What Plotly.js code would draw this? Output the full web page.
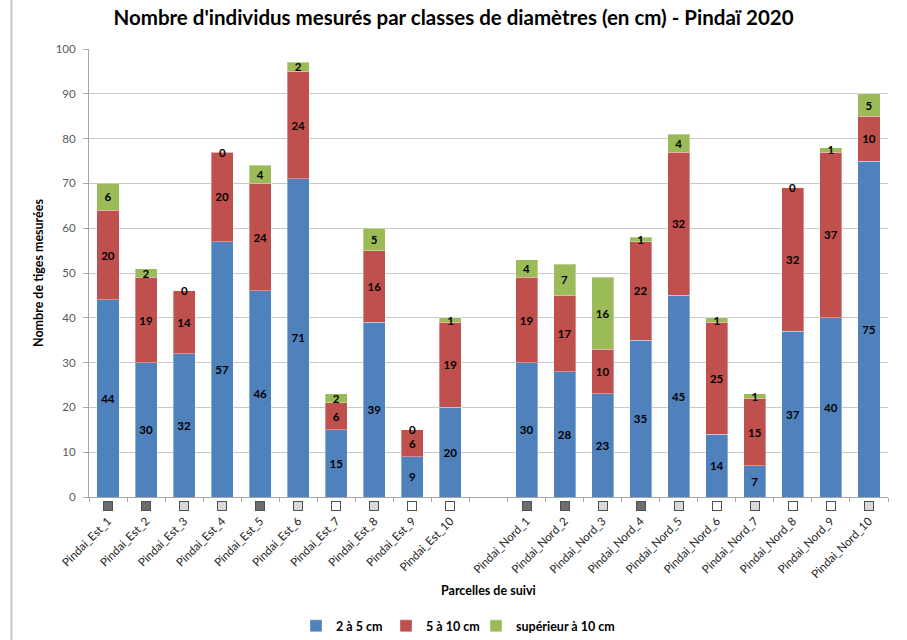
<!DOCTYPE html>
<html><head><meta charset="utf-8">
<script src="https://cdn.plot.ly/plotly-3.0.1.min.js"></script>
<style>html,body{margin:0;padding:0;background:#fff}#chart{width:907px;height:640px}</style>
</head><body><div id="chart"></div>
<script>
const categories = ["Pindai_Est_1","Pindai_Est_2","Pindai_Est_3","Pindai_Est_4","Pindai_Est_5","Pindai_Est_6","Pindai_Est_7","Pindai_Est_8","Pindai_Est_9","Pindai_Est_10"," ",
  "Pindai_Nord_1","Pindai_Nord_2","Pindai_Nord_3","Pindai_Nord_4","Pindai_Nord_5","Pindai_Nord_6","Pindai_Nord_7","Pindai_Nord_8","Pindai_Nord_9","Pindai_Nord_10"];
const small = [44,30,32,57,46,71,15,39,9,20,null,30,28,23,35,45,14,7,37,40,75];
const medium = [20,19,14,20,24,24,6,16,6,19,null,19,17,10,22,32,25,15,32,37,10];
const large = [6,2,0,0,4,2,2,5,0,1,null,4,7,16,1,4,1,1,0,1,5];
const flags = ["dark","dark","light","light","dark","light","white","light","white","white",null,
  "dark","dark","light","dark","light","white","light","white","white","light"];
const seriesNames = ["2 à 5 cm","5 à 10 cm","supérieur à 10 cm"];
const colors = ["#4F81BD","#C0504D","#9BBB59"];
const flagColors = {dark:"#6d6d6d", light:"#d9d9d9", white:"#ffffff"};
const xTitle = "Parcelles de suivi";
const yTitle = "Nombre de tiges mesurées";

const FONT = "Lato, sans-serif";
const labelFont = {family:FONT, size:11.5, color:"#000", weight:"bold"};
const legendIds = ["legend","legend2","legend3"];
const txt = arr => arr.map(v => (v === null || v === 0) ? "" : String(v));
const mk = (y, i) => ({
  type:"bar", x:categories, y:y, name:seriesNames[i], legend:legendIds[i], showlegend:true,
  marker:{color:colors[i], line:{color:"rgba(255,255,255,0.35)", width:1}},
  text:txt(y), textposition:"inside", insidetextanchor:"middle", constraintext:"none", textangle:0,
  textfont:labelFont, hoverinfo:"x+y+name", cliponaxis:false
});
const data = [mk(small,0), mk(medium,1), mk(large,2)];

const L = 89, R = 19, T = 49, B = 143, W = 907 - L - R, H = 640 - T - B;
const annotations = [];
categories.forEach((c,i) => {
  if (flags[i]) annotations.push({x:c, y:0, xref:"x", yref:"y", text:"", showarrow:false,
    width:8, height:8, bgcolor:flagColors[flags[i]], bordercolor:"#505050", borderwidth:1,
    borderpad:0, yshift:-9});
  if (large[i] === 0) annotations.push({x:c, y:small[i]+medium[i], xref:"x", yref:"y",
    text:"0", showarrow:false, font:labelFont, yanchor:"middle"});
});
annotations.push({xref:"paper", yref:"paper", x:0.5, y:-(590-(640-B))/H, yanchor:"middle",
  text:"<b>"+xTitle+"</b>", showarrow:false, font:{family:FONT, size:12.5, color:"#000"}});
annotations.push({xref:"paper", yref:"paper", x:(38-L)/W, y:0.5, xanchor:"center", textangle:-90,
  text:"<b>"+yTitle+"</b>", showarrow:false, font:{family:FONT, size:12.5, color:"#000"}});

const legendBase = x => ({orientation:"h", x:(x-L)/W, xanchor:"left", y:-0.255, yanchor:"top",
  itemwidth:30, font:{size:12.5, color:"#000", weight:"bold"}, bgcolor:"rgba(0,0,0,0)", visible:true});

const layout = {
  width:907, height:640, barmode:"stack", bargap:0.42, showlegend:true,
  paper_bgcolor:"#fff", plot_bgcolor:"#fff",
  font:{family:FONT, color:"#404040"},
  margin:{l:L, r:R, t:T, b:B, autoexpand:false},
  title:{text:"<b>Nombre d'individus mesurés par classes de diamètres (en cm) - Pindaï 2020</b>",
    font:{family:FONT, size:20.5, color:"#000"}, x:0.5, xanchor:"center", y:0.972, yanchor:"middle"},
  xaxis:{type:"category", categoryorder:"array", categoryarray:categories, automargin:false,
    tickson:"boundaries", ticks:"outside", ticklen:4, tickcolor:"#a6a6a6",
    showline:true, linecolor:"#a6a6a6", linewidth:1, showgrid:false,
    tickangle:-45, ticklabelstandoff:12, tickfont:{size:11.5, color:"#222"}},
  yaxis:{range:[0,100], dtick:10, ticks:"outside", ticklen:5, tickcolor:"#a6a6a6", automargin:false,
    showline:true, linecolor:"#a6a6a6", gridcolor:"#c8c8c8", gridwidth:1, zeroline:false,
    tickfont:{size:11.5, color:"#595959"}, ticklabelstandoff:5},
  legend:legendBase(296), legend2:legendBase(386), legend3:legendBase(476),
  annotations:annotations,
  shapes:[{type:"line", xref:"paper", yref:"paper", x0:(11.5-L)/W, x1:(11.5-L)/W,
    y0:-B/H, y1:1+T/H, line:{color:"#c8c8c8", width:2}}]
};
Plotly.newPlot("chart", data, layout, {displayModeBar:false, staticPlot:true});
</script></body></html>
